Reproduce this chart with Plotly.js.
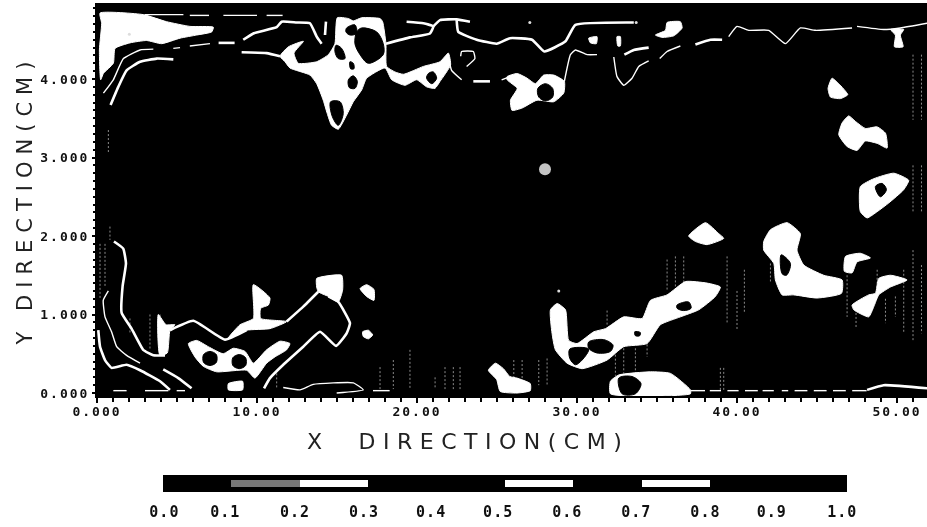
<!DOCTYPE html>
<html><head><meta charset="utf-8">
<script src="https://cdn.plot.ly/plotly-3.0.1.min.js"></script>
<style>
html,body{margin:0;padding:0;background:#fff}
#plot{width:927px;height:527px;filter:blur(0.45px)}
.annotation-text{letter-spacing:7.5px}
.ytitle{letter-spacing:7px}
.xtick text,.ytick text{letter-spacing:2px}
.x2tick text{letter-spacing:1px}
</style></head><body><div id="plot"></div>
<script>
// ---- Measured high-value regions (x cm, y cm) ----
const regionA=[[0.19,4.84],[2.9,4.82],[4.35,4.73],[5.81,4.67],[7.27,4.66],[7.17,4.6],[6.23,4.56],[5.19,4.52],[4.04,4.45],[3.1,4.49],[2.06,4.46],[1.13,4.39],[1.02,4.2],[0.4,4.07],[0.23,3.99],[0.15,4.37],[0.29,4.71]];
const regionB=[[11.44,4.29],[11.96,4.41],[12.9,4.48],[12.31,4.33],[12.58,4.2],[13.73,4.22],[14.46,4.31],[14.87,4.45],[15.02,4.78],[15.71,4.77],[16.02,4.74],[16.54,4.78],[17.69,4.77],[17.85,4.73],[18.06,4.45],[18.1,4.16],[18.62,4.09],[19.15,4.06],[20.4,4.16],[21.44,4.22],[21.96,4.33],[22.1,4.18],[21.44,3.97],[21.12,3.88],[20.6,3.9],[19.98,3.99],[19.25,3.92],[18.42,3.99],[18,4.14],[16.85,4.01],[16.54,3.86],[16.02,3.71],[15.6,3.54],[15.08,3.36],[14.66,3.41],[14.39,3.56],[14.14,3.73],[13.73,3.94],[13.31,4.05],[12.06,4.14],[11.75,4.22]];
const regionC=[[25.63,4.03],[26.26,4.07],[26.88,4.01],[27.4,3.94],[27.92,4.05],[28.55,4.05],[29.21,3.97],[29.17,3.82],[28.55,3.71],[27.5,3.73],[26.57,3.63],[25.94,3.6],[25.84,3.73],[26.26,3.88],[25.63,3.99]];
const regionC1=[[30.73,4.52],[31.25,4.54],[31.21,4.45],[30.84,4.46]];
const regionC2=[[32.5,4.54],[32.71,4.54],[32.71,4.42],[32.55,4.42]];
const regionD=[[34.9,4.56],[35.53,4.62],[35.63,4.72],[36.46,4.73],[36.57,4.65],[36.05,4.55],[35.32,4.53]];
const regionE=[[49.59,4.63],[50.42,4.63],[50.21,4.56],[50.38,4.41],[49.84,4.41],[49.9,4.56]];
const regionF=[[45.94,4.01],[46.36,3.94],[46.92,3.8],[46.46,3.75],[45.84,3.77],[45.69,3.88]];
const regionG=[[46.98,3.53],[47.4,3.46],[48.02,3.37],[48.76,3.39],[49.28,3.31],[49.38,3.12],[48.76,3.18],[48.02,3.21],[47.5,3.09],[46.88,3.14],[46.36,3.29],[46.57,3.44]];
const regionH=[[47.71,2.63],[48.55,2.73],[49.8,2.8],[50.73,2.71],[50.42,2.59],[49.48,2.42],[48.76,2.31],[48.13,2.23],[47.71,2.31]];
const regionI1=[[9.77,1.38],[10.81,1.21],[10.71,1.12],[10.23,1.08],[10.23,0.95],[11.85,0.91],[10.81,0.82],[9.35,0.8],[8.21,0.7],[8.94,0.87],[9.77,0.95]];
const regionI2=[[13.73,1.46],[15.29,1.5],[15.35,1.31],[15.08,1.16],[14.46,1.23],[13.83,1.29],[13.73,1.35]];
const regionI3=[[3.83,1],[4.31,0.87],[4.87,0.87],[4.56,0.8],[4.39,0.51],[3.93,0.48]];
const regionI4=[[5.71,0.63],[6.23,0.67],[6.96,0.59],[7.89,0.5],[8.52,0.57],[9.25,0.53],[9.77,0.38],[10.6,0.55],[11.44,0.66],[12.06,0.63],[11.85,0.55],[11.12,0.46],[10.6,0.38],[9.87,0.19],[9.35,0.29],[7.48,0.27],[6.64,0.34],[6.12,0.46]];
const regionI5=[[8.21,0.12],[9.1,0.15],[9.1,0.04],[8.21,0.04]];
const regionJ1=[[16.44,1.33],[16.85,1.38],[17.31,1.32],[17.31,1.18],[16.85,1.23]];
const regionJ2=[[16.6,0.78],[16.96,0.8],[17.23,0.74],[16.96,0.69],[16.64,0.72]];
const regionK=[[24.46,0.29],[24.9,0.38],[25.4,0.31],[25.8,0.21],[26.25,0.19],[27.08,0.12],[27.08,0.03],[26.25,0],[25.2,0.02],[24.98,0.17]];
const regionL=[[28.34,1.06],[28.76,1.14],[29.28,1.06],[29.48,0.67],[30,0.63],[31.05,0.78],[31.78,0.82],[32.92,0.97],[34.07,0.95],[34.59,1.18],[35.63,1.25],[36.78,1.42],[38.13,1.4],[38.96,1.35],[38.65,1.23],[37.61,1.06],[36.46,0.97],[35.21,0.87],[34.38,0.63],[32.92,0.59],[31.88,0.42],[30.32,0.31],[29.38,0.38],[28.65,0.55],[28.44,0.76]];
const regionM=[[36.98,2],[38.03,2.17],[38.86,2.03],[39.17,1.97],[38.13,1.89],[37.4,1.93]];
const regionN=[[41.67,1.93],[42.09,2.08],[43.13,2.17],[43.96,2.03],[43.75,1.82],[44.17,1.63],[45.42,1.5],[46.57,1.44],[46.53,1.27],[45,1.21],[43.55,1.25],[42.82,1.25],[42.4,1.44],[42.3,1.65],[41.67,1.82]];
const regionO=[[46.78,1.74],[47.71,1.78],[48.34,1.72],[47.5,1.67],[47.19,1.53],[46.71,1.55]];
const regionP=[[47.19,1.12],[48.23,1.25],[48.65,1.27],[48.86,1.46],[49.59,1.5],[50.63,1.44],[49.59,1.35],[48.86,1.25],[48.55,1.1],[48.23,0.97],[47.3,1.06]];
const regionQ=[[32.09,0.15],[32.61,0.23],[34.59,0.27],[35.84,0.25],[37.09,0.04],[37.09,-0.01],[32.09,-0.01]];
const highRegions=[regionA,regionB,regionC,regionC1,regionC2,regionD,regionE,regionF,regionG,regionH,regionI1,regionI2,regionI3,regionI4,regionI5,regionJ1,regionJ2,regionK,regionL,regionM,regionN,regionO,regionP,regionQ];

// ---- Low-value islands inside the regions ----
const holeB1=[[16.54,4.65],[17.48,4.6],[17.89,4.45],[17.89,4.31],[16.96,4.2],[16.44,4.31],[16.12,4.45],[16.23,4.6]];
const holeB2=[[15.6,4.65],[16.12,4.69],[16.23,4.58],[15.81,4.56],[15.56,4.6]];
const holeB3=[[14.94,4.43],[15.29,4.39],[15.5,4.26],[15.08,4.26],[14.87,4.35]];
const holeB4=[[15.81,4.22],[16.02,4.2],[16.06,4.13],[15.85,4.13]];
const holeB5=[[15.71,3.99],[16.02,4.04],[16.27,3.97],[16.12,3.88],[15.77,3.89]];
const holeB6=[[14.6,3.71],[15.19,3.71],[15.39,3.56],[15.08,3.41],[14.71,3.52]];
const holeB7=[[20.71,4.07],[21.02,4.09],[21.23,4.01],[20.92,3.94],[20.6,4.01]];
const holeC=[[28.03,3.94],[28.48,3.88],[28.48,3.77],[28.03,3.72],[27.61,3.77],[27.55,3.88]];
const holeH=[[48.65,2.63],[49.07,2.67],[49.34,2.59],[48.96,2.5]];
const holeI1=[[7.06,0.53],[7.46,0.49],[7.46,0.39],[7.06,0.35],[6.66,0.39],[6.66,0.49]];
const holeI2=[[8.89,0.49],[9.29,0.45],[9.29,0.35],[8.89,0.31],[8.49,0.35],[8.49,0.45]];
const holeL1=[[30.73,0.65],[31.67,0.68],[32.25,0.61],[32.09,0.53],[31.25,0.51],[30.73,0.57]];
const holeL2=[[29.55,0.56],[30.73,0.56],[30.32,0.42],[29.9,0.36],[29.55,0.44]];
const holeL3=[[33.61,0.78],[33.96,0.77],[33.92,0.73],[33.65,0.73]];
const holeL4=[[36.25,1.12],[36.98,1.16],[37.13,1.08],[36.67,1.05],[36.25,1.08]];
const holeN=[[42.76,1.76],[43.34,1.65],[43.09,1.5],[42.82,1.52]];
const holeQ=[[32.61,0.19],[33.44,0.21],[34,0.12],[33.65,-0.01],[32.82,-0.01]];
const lowRegions=[holeB1,holeB2,holeB3,holeB4,holeB5,holeB6,holeB7,holeC,holeH,holeI1,holeI2,holeL1,holeL2,holeL3,holeL4,holeN,holeQ];

// ---- Contour strands ----
const heavyContours=[
 [[9.14,4.5],[9.77,4.58],[11.23,4.66],[11.54,4.73],[12.48,4.72],[13.31,4.71],[13.73,4.54],[14.04,4.45]],
 [[14.31,4.73],[14.25,4.56]],
 [[18.06,4.45],[19.56,4.53],[20.81,4.58],[21.02,4.67],[20.4,4.71],[19.35,4.73]],
 [[21.02,4.67],[21.44,4.75],[22.48,4.76],[23.31,4.73]],
 [[22.48,4.75],[22.58,4.6],[23.73,4.5],[24.98,4.45],[25.81,4.52],[27.19,4.5],[27.96,4.35],[29.28,4.48],[29.9,4.69],[33.55,4.72]],
 [[7.6,4.46],[8.6,4.46]],
 [[9.04,4.34],[10.6,4.33],[11.44,4.29]],
 [[23.52,3.97],[24.56,3.97]],
 [[32.96,4.31],[33.55,4.37],[34.48,4.4]],
 [[37.4,4.44],[38.34,4.5],[39.07,4.5]],
 [[0.85,3.67],[1.33,3.9],[1.85,4.11],[2.69,4.22],[3.73,4.26],[4.77,4.25]],
 [[1.06,1.93],[1.64,1.84],[1.81,1.65],[1.6,1.36],[1.54,1.02],[2.16,0.82],[2.89,0.55],[3.52,0.48],[4.25,0.48]],
 [[4.56,0.8],[6.02,0.92],[8,0.68],[9.35,0.8]],
 [[11.85,0.91],[12.89,1.1],[13.83,1.29]],
 [[14.46,1.23],[15.08,1.16],[15.81,0.89],[15.6,0.76],[14.94,0.6],[13.94,0.78],[12.89,0.59],[11.64,0.36],[10.81,0.19],[10.44,0.06]],
 [[0.08,0.8],[0.19,0.59],[0.5,0.42],[0.91,0.32],[1.85,0.36],[2.69,0.29],[3.94,0.15],[4.56,0.04]],
 [[4.14,0.3],[5.08,0.19],[5.91,0.06]],
 [[48.13,0.04],[49.17,0.1],[51.88,0.06]]
];
const lightContours=[
 [[3,4.82],[5.4,4.82]],[[5.8,4.81],[7,4.81]],[[7.9,4.81],[10,4.81]],[[10.6,4.81],[11.6,4.81]],
 [[0.4,3.82],[1.02,3.99],[1.65,4.26],[2.69,4.37],[3.52,4.38]],
 [[4.77,4.39],[5.19,4.4]],[[5.8,4.42],[7.06,4.45]],
 [[22.73,4.29],[22.79,4.35],[23.52,4.35],[23.62,4.26],[23.1,4.16]],
 [[21.96,4.29],[22.16,4.11],[22.79,3.99]],
 [[25.29,3.99],[25.81,4.03]],
 [[29.21,3.97],[29.59,4.31],[29.9,4.37],[30.63,4.31],[31.25,4.31]],
 [[32.3,4.28],[32.5,4.03],[32.92,3.92],[33.44,4.01],[33.86,4.16],[34.48,4.23]],
 [[35.17,4.26],[35.63,4.35],[36.46,4.42]],
 [[39.48,4.54],[40,4.67],[40.73,4.62],[41.98,4.62],[43.03,4.45],[43.96,4.65],[44.9,4.62],[47.19,4.65]],
 [[47.5,4.67],[49.17,4.63],[50.21,4.65],[51.88,4.71]],
 [[0.71,1.3],[0.39,1.18],[0.5,0.97],[0.91,0.78],[1.23,0.59],[1.85,0.48],[2.69,0.38]],
 [[1.02,0.03],[1.85,0.03]],[[3,0.03],[4.46,0.03]],[[4.98,0.03],[5.5,0.03]],
 [[11.64,0.07],[12.69,0.04],[13.52,0.11],[16.02,0.13],[16.64,0.04],[14.98,0]],
 [[17.25,0.03],[18.29,0.03]],
 [[37.09,0.03],[38,0.03]],[[38.3,0.03],[39,0.03]],[[39.4,0.03],[40.1,0.03]],[[40.5,0.03],[41.3,0.03]],[[41.6,0.03],[42.3,0.03]],
 [[42.8,0.03],[43.2,0.03]],[[43.6,0.03],[44.4,0.03]],[[44.8,0.03],[45.6,0.03]],[[46,0.03],[46.8,0.03]],[[47.2,0.03],[48.1,0.03]]
];

// ---- Faint vertical streaks: x, upper y, lower y ----
const streakX=[26.05,26.57,27.61,28.13,31.88,32.4,32.92,33.65,34.38,35.63,36.15,36.67,38.96,39.17,39.38,40,40.46,42.09,46.88,47.44,48.76,49.28,49.9,50.42,51,51.53,51,51.53,51,51.53,3.31,3.94,2.06,17.69,18.52,19.56,21.75,22.27,22.69,21.13,11.23,0.19,0.5,0.81,0.71];
const streakTop=[0.42,0.42,0.42,0.44,1.05,0.59,0.57,0.57,0.67,1.7,1.74,1.74,0.32,0.32,1.74,1.3,1.57,1.65,1.5,1.02,1.57,1.2,1.23,1.57,1.82,1.63,4.31,4.31,2.9,2.9,1,1,0.95,0.33,0.42,0.55,0.33,0.33,0.33,0.2,0.25,1.9,1.9,2.12,3.35];
const streakBottom=[0.08,0.08,0.1,0.1,0.85,0.22,0.25,0.25,0.46,1.3,1.3,1.4,0.02,0.02,0.88,0.8,1.02,1.4,0.97,0.82,1.35,0.89,0.97,0.76,0.66,0.76,3.48,3.48,2.3,2.3,0.55,0.55,0.75,0.05,0.05,0.05,0.05,0.05,0.05,0.05,0.05,1.2,1.35,1.95,3.05];

// ---- Isolated spots ----
const spotX=[2.02,28.86,27.05,33.7];
const spotY=[4.57,1.3,4.72,4.72];
const spotValueX=[28];
const spotValueY=[2.85];

// ---- Axes and scale bar ----
const xTickValues=[0,10,20,30,40,50];
const xTickLabels=['0.000','10.00','20.00','30.00','40.00','50.00'];
const yTickValues=[0,1,2,3,4];
const yTickLabels=['0.000','1.000','2.000','3.000','4.000'];
const scaleEdges=[0,0.1,0.2,0.3,0.4,0.5,0.6,0.7,0.8,0.9,1];
const scaleBand=[0,0.5,1,0,0,1,0,1,0,0];
const scaleLabels=['0.0','0.1','0.2','0.3','0.4','0.5','0.6','0.7','0.8','0.9','1.0'];
const scaleLabelPos=[0.002,0.091,0.193,0.294,0.392,0.49,0.591,0.692,0.793,0.89,0.993];

function joined(list){
  const x=[],y=[];
  list.forEach(p=>{p.forEach(q=>{x.push(q[0]);y.push(q[1]);});x.push(null);y.push(null);});
  return {x,y};
}
function closed(list){return joined(list.map(p=>p.concat([p[0]])));}
function streaks(){
  const x=[],y=[];
  streakX.forEach((v,i)=>{x.push(v,v,null);y.push(streakTop[i],streakBottom[i],null);});
  return {x,y};
}
const W=927,H=527;
const high=closed(highRegions),low=closed(lowRegions),heavy=joined(heavyContours),light=joined(lightContours),st=streaks();
const curved={color:'#fff',width:1,shape:'spline',smoothing:0.5};
const traces=[
 {type:'scatter',mode:'lines',x:st.x,y:st.y,line:{color:'#8a8a8a',width:1,dash:'2px 2px'},hoverinfo:'skip'},
 {type:'scatter',mode:'lines',x:high.x,y:high.y,fill:'toself',fillcolor:'#fff',line:curved,hoverinfo:'skip'},
 {type:'scatter',mode:'lines',x:low.x,y:low.y,fill:'toself',fillcolor:'#000',line:{color:'#000',width:1,shape:'spline',smoothing:0.9},hoverinfo:'skip'},
 {type:'scatter',mode:'lines',x:heavy.x,y:heavy.y,line:{color:'#fff',width:2.6,shape:'spline',smoothing:0.4},connectgaps:false,hoverinfo:'skip'},
 {type:'scatter',mode:'lines',x:light.x,y:light.y,line:{color:'#fff',width:1.4,shape:'spline',smoothing:0.4},connectgaps:false,hoverinfo:'skip'},
 {type:'scatter',mode:'markers',x:spotX,y:spotY,marker:{color:'#ddd',size:3},hoverinfo:'skip'},
 {type:'scatter',mode:'markers',x:spotValueX,y:spotValueY,marker:{color:'#c4c4c4',size:12},hoverinfo:'skip'},
 {type:'heatmap',xaxis:'x2',yaxis:'y2',x:scaleEdges,y:[0,0.3,0.7,1],
  z:[scaleBand.map(()=>0),scaleBand,scaleBand.map(()=>0)],zmin:0,zmax:1,showscale:false,
  colorscale:[[0,'#000'],[0.5,'#777'],[1,'#fff']],hoverinfo:'skip'}
];
const tickFont={family:'"DejaVu Sans Mono",monospace',size:13,color:'#111',weight:700};
const layout={
 width:W,height:H,autosize:false,showlegend:false,
 margin:{l:0,r:0,t:0,b:0,pad:0},paper_bgcolor:'#fff',plot_bgcolor:'#000',
 xaxis:{domain:[97/W,1],range:[0,51.875],tickmode:'array',tickvals:xTickValues,ticktext:xTickLabels,
  ticks:'outside',ticklen:5,tickwidth:2,tickcolor:'#000',tickfont:tickFont,ticklabelstandoff:-3,showgrid:false,zeroline:false,
  showline:true,linecolor:'#000',linewidth:2,anchor:'y',
  minor:{dtick:1,ticks:'outside',ticklen:4,tickwidth:2,tickcolor:'#000',showgrid:false}},
 yaxis:{domain:[1-396/H,1-3/H],range:[-0.038,4.968],tickmode:'array',tickvals:yTickValues,ticktext:yTickLabels,
  ticks:'outside',ticklen:3,tickwidth:2,tickcolor:'#000',tickfont:tickFont,showgrid:false,zeroline:false,
  showline:true,linecolor:'#000',linewidth:2,anchor:'x',
  minor:{dtick:0.1,ticks:'outside',ticklen:2,tickwidth:2,tickcolor:'#000',showgrid:false},
  title:{text:'Y DIRECTION(CM)',standoff:2,font:{family:'"DejaVu Sans",sans-serif',size:21,color:'#222'}}},
 xaxis2:{domain:[163/W,847/W],range:[0,1],anchor:'y2',tickmode:'array',tickvals:scaleLabelPos,ticktext:scaleLabels,
  ticks:'outside',ticklen:6,tickcolor:'rgba(0,0,0,0)',tickfont:{family:'"DejaVu Sans Mono",monospace',size:15,color:'#111',weight:700},
  showgrid:false,zeroline:false,showline:false},
 yaxis2:{domain:[1-492/H,1-475/H],range:[0,1],anchor:'x2',showticklabels:false,ticks:'',showgrid:false,zeroline:false,showline:false},
 annotations:[{xref:'paper',yref:'paper',x:468/W,y:1-441/H,xanchor:'center',yanchor:'middle',showarrow:false,
  text:'X  DIRECTION(CM)',font:{family:'"DejaVu Sans",sans-serif',size:22,color:'#222'}}]
};
Plotly.newPlot('plot',traces,layout,{displayModeBar:false,staticPlot:true});
</script></body></html>
